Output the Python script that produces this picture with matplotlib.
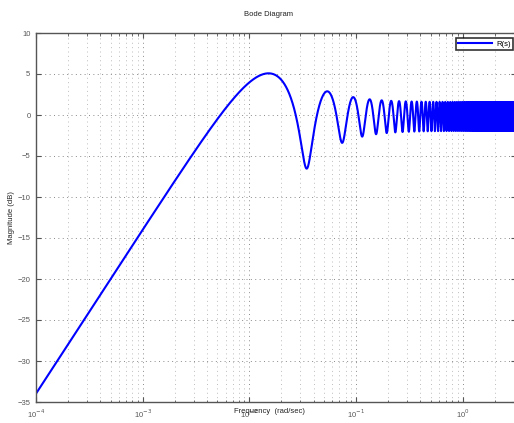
import numpy as np
import matplotlib
matplotlib.use("Agg")
import matplotlib.pyplot as plt
from matplotlib.ticker import LogLocator, FixedLocator

# R(s) = 1 - e^(-T s) * (10 s + 1) / (50 s + 1)
num_F = [10.0, 1.0]
den_F = [50.0, 1.0]
delay_T = 160.0

w_min, w_max = 1e-4, 10**0.5
y_ticks = [-35, -30, -25, -20, -15, -10, -5, 0, 5, 10]
y_labels = ['\u221235', '\u221230', '\u221225', '\u221220', '\u221215',
            '\u221210', '\u22125', '0', '5', '10']
x_decades = [1e-4, 1e-3, 1e-2, 1e-1, 1e0]
x_labels = ['10$^{-4}$', '10$^{-3}$', '10$^{-2}$', '10$^{-1}$', '10$^{0}$']

# respuesta en frecuencia
w = np.logspace(np.log10(w_min), np.log10(w_max), 40000)
s = 1j * w
F = np.polyval(num_F, s) / np.polyval(den_F, s)
R = 1 - F * np.exp(-delay_T * s)
mag_db = 20 * np.log10(np.abs(R))

plt.rcParams['font.family'] = ['Liberation Sans', 'DejaVu Sans']
W, H = 514, 423
fig = plt.figure(figsize=(W / 100, H / 100), dpi=100)
ax = fig.add_axes([36 / W, 1 - 402 / H, 480 / W, 369 / H])

ax.semilogx(w, mag_db, color='#0000ff', lw=1.5, label='R(s)')
ax.set_xlim(w_min, w_max)
ax.set_ylim(-35, 10)

ax.xaxis.set_major_locator(FixedLocator(x_decades))
ax.xaxis.set_minor_locator(LogLocator(base=10, subs=np.arange(2, 10), numticks=20))
ax.set_xticklabels(x_labels)
ax.set_yticks(y_ticks)
ax.set_yticklabels(y_labels)

ax.grid(True, which='major', ls=(0, (1, 3.5)), color='#8a8a8a', lw=0.7)
ax.grid(True, which='minor', axis='x', ls=(0, (1, 3.5)), color='#bdbdbd', lw=0.7)
ax.tick_params(which='both', direction='in', top=True, right=True,
               labelsize=5.5, labelcolor='#555555', color='#555555')
ax.tick_params(which='major', length=3.5, pad=4)
ax.tick_params(which='minor', length=1.8)
for sp in ax.spines.values():
    sp.set_color('#555555')
    sp.set_linewidth(1.0)

fig.text(269 / W, 1 - 14 / H, 'Bode Diagram', ha='center', va='center',
         fontsize=5.5, color='#222222')
fig.text(269 / W, 1 - 411 / H, 'Frequency  (rad/sec)', ha='center', va='center',
         fontsize=5.5, color='#222222')
fig.text(12 / W, 1 - 218 / H, 'Magnitude (dB)', ha='center', va='center',
         rotation=90, fontsize=5.5, color='#222222')

leg = ax.legend(loc='upper right', bbox_to_anchor=(513 / W, 1 - 38 / H),
                bbox_transform=fig.transFigure, fontsize=5.5, frameon=True,
                fancybox=False, borderaxespad=0, handlelength=4.5,
                borderpad=0.3, handletextpad=0.5)
leg.get_frame().set_edgecolor('black')
leg.get_frame().set_linewidth(1.2)

fig.savefig('out.png', dpi=100)
